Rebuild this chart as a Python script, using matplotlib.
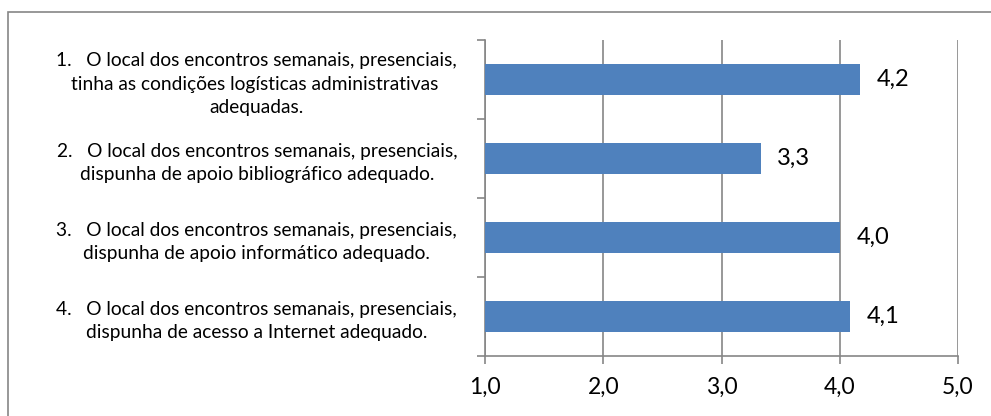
import numpy as np
import matplotlib.pyplot as plt
from matplotlib.patches import Rectangle
from matplotlib.ticker import FixedLocator

plt.rcParams['font.family'] = ['Lato', 'DejaVu Sans']

labels = [
    '1.   O local dos encontros semanais, presenciais,\ntinha as condições logísticas administrativas \nadequadas.',
    '2.   O local dos encontros semanais, presenciais,\ndispunha de apoio bibliográfico adequado.',
    '3.   O local dos encontros semanais, presenciais,\ndispunha de apoio informático adequado.',
    '4.   O local dos encontros semanais, presenciais,\ndispunha de acesso a Internet adequado.',
]
values = [4.17, 3.33, 4.0, 4.09]
value_text = ['4,2', '3,3', '4,0', '4,1']
xticks = [1.0, 2.0, 3.0, 4.0, 5.0]
xtick_labels = ['1,0', '2,0', '3,0', '4,0', '5,0']

grey = '#868686'
fig = plt.figure(figsize=(9.91, 4.16), dpi=100)
ax = fig.add_axes([485/991, 1-356/416, (958-485)/991, (356-40)/416])

# outer chart frame
fig.patches.append(Rectangle((8/991, -0.1), 1.2, 1-12/416+0.1, transform=fig.transFigure,
                             fill=False, edgecolor=grey, linewidth=1.2))

y = np.arange(len(values))
ax.barh(y, np.array(values) - 1.0, left=1.0, height=0.4, color='#4F81BD', zorder=3)
for yi, v, t in zip(y, values, value_text):
    ax.text(v + 0.14, yi, t, va='center', ha='left', fontsize=17)

ax.set_xlim(1.0, 5.0)
ax.set_ylim(3.5, -0.5)
ax.set_xticks(xticks)
ax.set_xticklabels(xtick_labels, fontsize=16.5)
ax.set_yticks(y)
ax.set_yticklabels(labels, fontsize=13.8, multialignment='center', linespacing=1.45)
ax.yaxis.set_minor_locator(FixedLocator([-0.5, 0.5, 1.5, 2.5, 3.5]))
ax.tick_params(axis='y', which='major', length=0, pad=20)
ax.tick_params(axis='y', which='minor', length=6, color=grey, width=1.2)
ax.tick_params(axis='x', length=6, color=grey, width=1.2, pad=9)

ax.grid(axis='x', color=grey, linewidth=1.2, zorder=0)
ax.set_axisbelow(True)
for s in ['top', 'right']:
    ax.spines[s].set_visible(False)
for s in ['left', 'bottom']:
    ax.spines[s].set_color(grey)
    ax.spines[s].set_linewidth(1.2)

fig.savefig('out.png', dpi=100)
